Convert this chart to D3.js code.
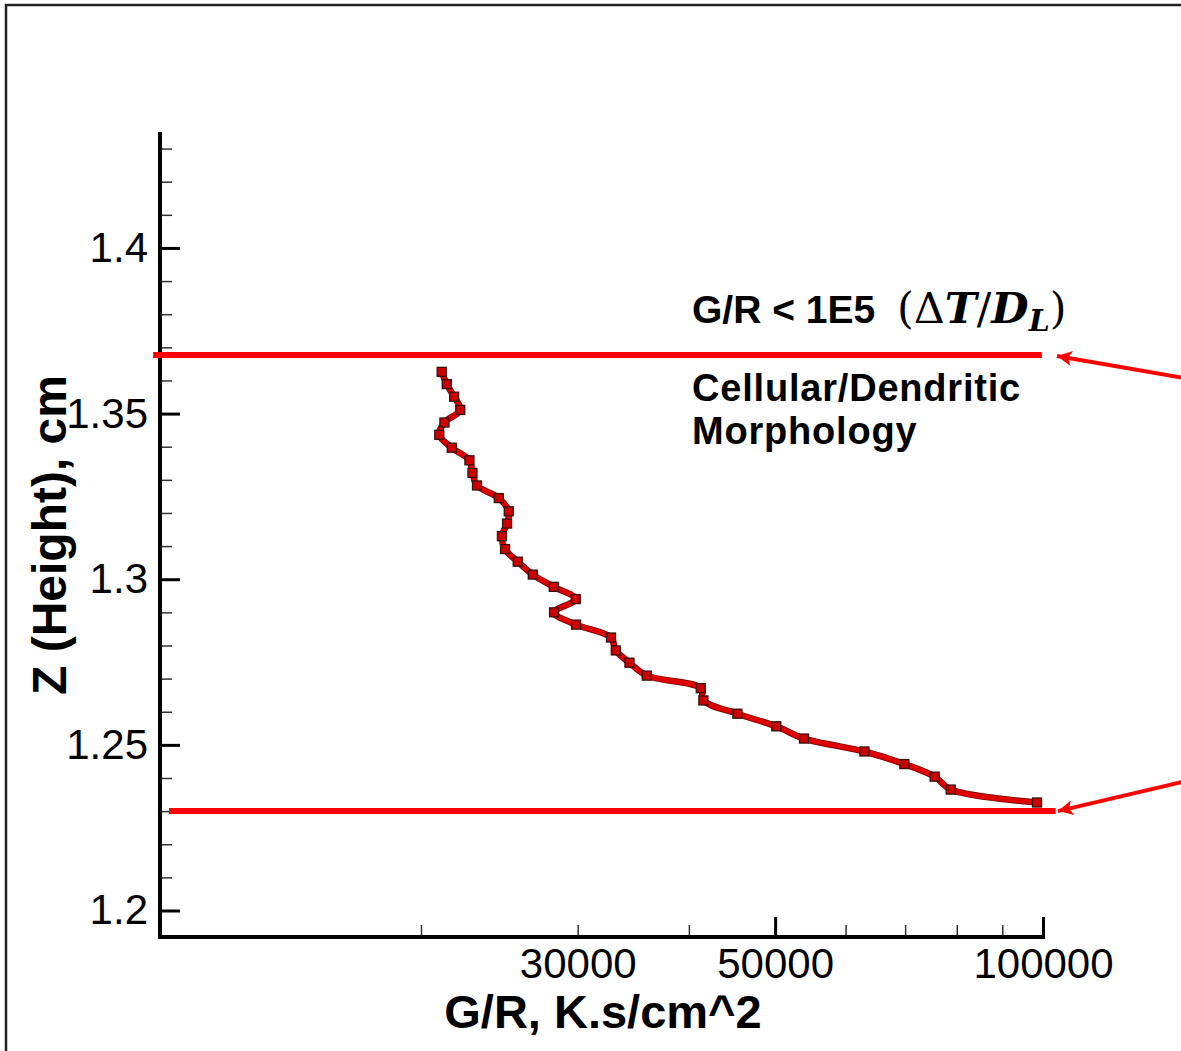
<!DOCTYPE html>
<html>
<head>
<meta charset="utf-8">
<script src="https://cdn.jsdelivr.net/npm/d3@7"></script>
<style>
  html, body { margin: 0; padding: 0; background: #fff; }
  svg { display: block; font-family: "Liberation Sans", Arial, Helvetica, sans-serif; }
  .tick-label text { fill: #000; }
</style>
</head>
<body>
<div id="chart"></div>
<script>
// G/R ratio along build height
const gr = [
  21100, 21380, 21790, 22140, 21250, 20970, 21660, 22670, 22850, 23120,
  24460, 25100, 24990, 24660, 24860, 25690, 26710, 28200, 29850, 28220,
  29870, 32700, 33110, 34300, 35870, 41250, 41530, 45350, 50150, 53880,
  63000, 69860, 75560, 78760, 98460
];
const height = [
  1.3626, 1.3589, 1.3551, 1.3511, 1.3473, 1.3436, 1.3397, 1.3359, 1.3321, 1.3283,
  1.3245, 1.3205, 1.3168, 1.3130, 1.3091, 1.3053, 1.3014, 1.2977, 1.2940, 1.2900,
  1.2863, 1.2824, 1.2785, 1.2748, 1.2709, 1.2671, 1.2634, 1.2594, 1.2556, 1.2519,
  1.2480, 1.2442, 1.2404, 1.2365, 1.2326
];

const yMajor = [1.2, 1.25, 1.3, 1.35, 1.4];
const yMinor = [1.21, 1.22, 1.23, 1.24, 1.26, 1.27, 1.28, 1.29, 1.31, 1.32, 1.33, 1.34,
                1.36, 1.37, 1.38, 1.39, 1.41, 1.42, 1.43];
const xMajor = [50000, 100000];
const xMinor = [20000, 30000, 40000, 60000, 70000, 80000, 90000];
const xLabels = [30000, 50000, 100000];

// morphology limits (horizontal red lines)
const limits = [
  { z: 1.3677, x0: 10000, x1: 99700 },
  { z: 1.2300, x0: 10420, x1: 103300 }
];

const W = 1181, H = 1051;
const svg = d3.select("#chart").append("svg")
  .attr("width", W).attr("height", H)
  .attr("viewBox", [0, 0, W, H]);

// outer frame
svg.append("path")
  .attr("d", `M6,${H} V5 H${W}`)
  .attr("fill", "none")
  .attr("stroke", "#222")
  .attr("stroke-width", 2.5);

const x = d3.scaleLog().domain([10180, 100000]).range([160, 1043]);
const y = d3.scaleLinear().domain([1.192, 1.435]).range([937, 132]);

// ---- axes
const gx = svg.append("g").attr("transform", `translate(0,${y.range()[0]})`);
gx.append("g")
  .call(d3.axisBottom(x).tickValues(xMinor).tickSizeInner(-12).tickSizeOuter(0).tickFormat(""))
  .call(g => g.select(".domain").remove())
  .call(g => g.selectAll(".tick line").attr("stroke", "#333").attr("stroke-width", 1.5));
gx.append("g")
  .call(d3.axisBottom(x).tickValues(xMajor).tickSizeInner(-20).tickSizeOuter(0).tickFormat(""))
  .call(g => g.select(".domain").attr("stroke", "#000").attr("stroke-width", 4)
    .attr("d", `M${x.range()[0] - 2},0H${x.range()[1] + 2}`))
  .call(g => g.selectAll(".tick line").attr("stroke", "#000").attr("stroke-width", 3));
gx.append("g").attr("class", "tick-label")
  .call(d3.axisBottom(x).tickValues(xLabels).tickSize(0).tickPadding(11).tickFormat(d3.format("d")))
  .call(g => g.select(".domain").remove())
  .call(g => g.selectAll("text").attr("font-size", 42).attr("font-family", "Liberation Sans, Arial, sans-serif"));

const gy = svg.append("g").attr("transform", `translate(${x.range()[0]},0)`);
gy.append("g")
  .call(d3.axisLeft(y).tickValues(yMinor).tickSizeInner(-12).tickSizeOuter(0).tickFormat(""))
  .call(g => g.select(".domain").remove())
  .call(g => g.selectAll(".tick line").attr("stroke", "#333").attr("stroke-width", 1.5));
gy.append("g").attr("class", "tick-label")
  .call(d3.axisLeft(y).tickValues(yMajor).tickSizeInner(-20).tickSizeOuter(0).tickPadding(12)
    .tickFormat(d => String(d)))
  .call(g => g.select(".domain").attr("stroke", "#000").attr("stroke-width", 4)
    .attr("d", `M0,${y.range()[0] + 2}V${y.range()[1]}`))
  .call(g => g.selectAll(".tick line").attr("stroke", "#000").attr("stroke-width", 3))
  .call(g => g.selectAll("text").attr("font-size", 42).attr("font-family", "Liberation Sans, Arial, sans-serif"));

// axis titles
svg.append("text")
  .attr("x", 603).attr("y", 1028)
  .attr("text-anchor", "middle")
  .attr("font-size", 47).attr("font-weight", "bold")
  .text("G/R, K.s/cm^2");

svg.append("text")
  .attr("transform", "translate(66,535) rotate(-90)")
  .attr("text-anchor", "middle")
  .attr("font-size", 48).attr("font-weight", "bold")
  .text("Z (Height), cm");

// ---- limit lines
svg.append("g").selectAll("line").data(limits).join("line")
  .attr("x1", d => x(d.x0)).attr("x2", d => x(d.x1))
  .attr("y1", d => y(d.z)).attr("y2", d => y(d.z))
  .attr("stroke", "#ff0000").attr("stroke-width", 6);

// arrows pointing at the limit lines from the right edge
const defs = svg.append("defs");
defs.append("marker")
  .attr("id", "arrowhead")
  .attr("viewBox", "0 0 10 10")
  .attr("refX", 10).attr("refY", 5)
  .attr("markerUnits", "userSpaceOnUse")
  .attr("markerWidth", 20).attr("markerHeight", 15)
  .attr("orient", "auto")
  .append("path").attr("d", "M0,0 L10,5 L0,10 L2.5,5 Z").attr("fill", "#ff0000");

const arrows = [
  { fromX: 1185, fromZ: 1.3607, toX: 1057, toZ: limits[0].z - 0.0003 },
  { fromX: 1185, fromZ: 1.2390, toX: 1058, toZ: limits[1].z }
];
svg.append("g").selectAll("line").data(arrows).join("line")
  .attr("x1", d => d.fromX).attr("y1", d => y(d.fromZ))
  .attr("x2", d => d.toX).attr("y2", d => y(d.toZ))
  .attr("stroke", "#ff0000").attr("stroke-width", 4)
  .attr("marker-end", "url(#arrowhead)");

// ---- data curve
const pts = gr.map((g, i) => [g, height[i]]);
const line = d3.line()
  .x(d => x(d[0])).y(d => y(d[1]))
  .curve(d3.curveCatmullRom.alpha(0.5));

svg.append("path").datum(pts)
  .attr("d", line).attr("fill", "none")
  .attr("stroke", "#8a0000").attr("stroke-width", 6.5)
  .attr("stroke-linejoin", "round").attr("stroke-linecap", "round");
svg.append("path").datum(pts)
  .attr("d", line).attr("fill", "none")
  .attr("stroke", "#e00000").attr("stroke-width", 4.5)
  .attr("stroke-linejoin", "round").attr("stroke-linecap", "round");

const s = 9;
svg.append("g").selectAll("rect").data(pts).join("rect")
  .attr("x", d => x(d[0]) - s / 2).attr("y", d => y(d[1]) - s / 2)
  .attr("width", s).attr("height", s)
  .attr("fill", "#cc0000").attr("stroke", "#3a1010").attr("stroke-width", 1.3);

// ---- annotations
const ann = svg.append("g").attr("font-weight", "bold");
ann.append("text").attr("x", 692).attr("y", 323).attr("font-size", 39)
  .text("G/R < 1E5");
const math = ann.append("text").attr("x", 897).attr("y", 323)
  .attr("font-family", "'DejaVu Serif', 'Liberation Serif', serif").attr("font-size", 43);
math.append("tspan").attr("font-weight", "normal").text("(Δ");
math.append("tspan").attr("font-style", "italic").text("T");
math.append("tspan").attr("font-weight", "normal").text("/");
math.append("tspan").attr("font-style", "italic").text("D");
math.append("tspan").attr("font-style", "italic").attr("font-size", 30).attr("dy", 8).text("L");
math.append("tspan").attr("font-weight", "normal").attr("dy", -8).text(")");

ann.append("text").attr("x", 692).attr("y", 401).attr("font-size", 38)
  .attr("letter-spacing", 0.8).text("Cellular/Dendritic");
ann.append("text").attr("x", 692).attr("y", 444).attr("font-size", 38)
  .attr("letter-spacing", 0.8).text("Morphology");
</script>
</body>
</html>
